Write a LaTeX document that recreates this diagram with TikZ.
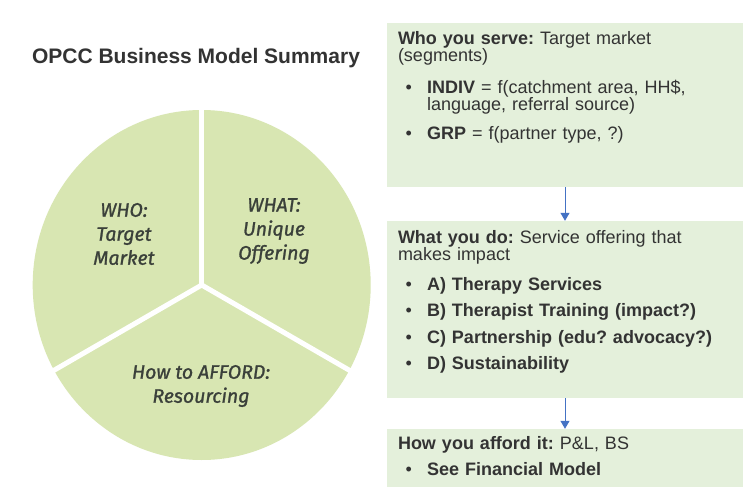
\documentclass[tikz,border=0pt]{standalone}
\usepackage{fontspec}
\setmainfont{Liberation Sans}
\newfontfamily\piefont{Fira Sans}[FakeBold=1.2]
\usetikzlibrary{arrows.meta, positioning, calc}
\definecolor{piegreen}{RGB}{216, 230, 178}
\definecolor{panelgreen}{RGB}{228, 240, 219}
\definecolor{inkgray}{RGB}{51, 51, 51}
\definecolor{pieink}{RGB}{58, 64, 58}
\definecolor{flowblue}{RGB}{68, 114, 196}
\frenchspacing
% bullet line with hanging indent
\newcommand{\pitem}[2][10pt]{\par\vspace{#1}{\leftskip=29pt\noindent\llap{\textbullet\hspace{15pt}}#2\par}}

\begin{document}
\begin{tikzpicture}[x=1pt, y=-1pt,
    panel/.style={fill=panelgreen, minimum width=356pt, inner sep=0pt},
    paneltext/.style={anchor=north west, inner sep=0pt, text width=340pt, align=left, text=inkgray, font=\fontsize{18pt}{17pt}\selectfont},
    pielabel/.style={text=pieink, align=center, font=\piefont\itshape\fontsize{19.5pt}{24pt}\selectfont},
    divider/.style={draw=white, line width=5pt},
    flow/.style={-{Triangle[width=9pt,length=8pt]}, draw=flowblue, line width=1pt}
  ]
  \fill[white] (0,0) rectangle (755,500);
  \useasboundingbox (0,0) rectangle (755,500);

  % title
  \node[anchor=base, text=inkgray, font=\bfseries\fontsize{21pt}{24pt}\selectfont] (title) at (196,63.3) {OPCC Business Model Summary};

  % pie
  \coordinate (hub) at (201.7,285);
  \fill[piegreen] (hub) ellipse [x radius=169, y radius=175];
  \coordinate (cuttop) at (201.7,95);
  \coordinate (cutleft) at (41.5,377.5);
  \coordinate (cutright) at (361.9,377.5);
  \draw[divider] (hub) -- (cuttop);
  \draw[divider] (hub) -- (cutleft);
  \draw[divider] (hub) -- (cutright);
  \node[pielabel] (who) at (124,234) {WHO:\\Target\\Market};
  \node[pielabel] (what) at (274,231) {WHAT:\\Unique\\Offering};
  \node[pielabel] (afford) at (201,386) {How to AFFORD:\\Resourcing};

  % panels
  \node[panel, minimum height=164pt] (serve) at (565,105) {};
  \node[panel, minimum height=177pt] (offer) at (565,309.5) {};
  \node[panel, minimum height=58pt] (pay) at (565,458) {};

  \node[paneltext] (servetext) at ([xshift=11pt, yshift=-8.3pt]serve.north west) {\noindent\textbf{Who you serve:} Target market\\(segments)
    \pitem[13.7pt]{\textbf{INDIV} = f(catchment area, HH\$,\\language, referral source)}
    \pitem[12.4pt]{\textbf{GRP} = f(partner type, ?)}};
  \node[paneltext] (offertext) at ([xshift=11pt, yshift=-9.3pt]offer.north west) {\noindent\textbf{What you do:} Service offering that\\makes impact
    \pitem[12.7pt]{\textbf{A) Therapy Services}}
    \pitem[9.6pt]{\textbf{B) Therapist Training (impact?)}}
    \pitem[9.6pt]{\textbf{C) Partnership (edu? advocacy?)}}
    \pitem[9.6pt]{\textbf{D) Sustainability}}};
  \node[paneltext] (paytext) at ([xshift=11pt, yshift=-7pt]pay.north west) {\noindent\textbf{How you afford it:} P\&L, BS
    \pitem[9pt]{\textbf{See Financial Model}}};

  \draw[flow] (serve) -- (offer);
  \draw[flow] (offer) -- (pay);
\end{tikzpicture}
\end{document}
